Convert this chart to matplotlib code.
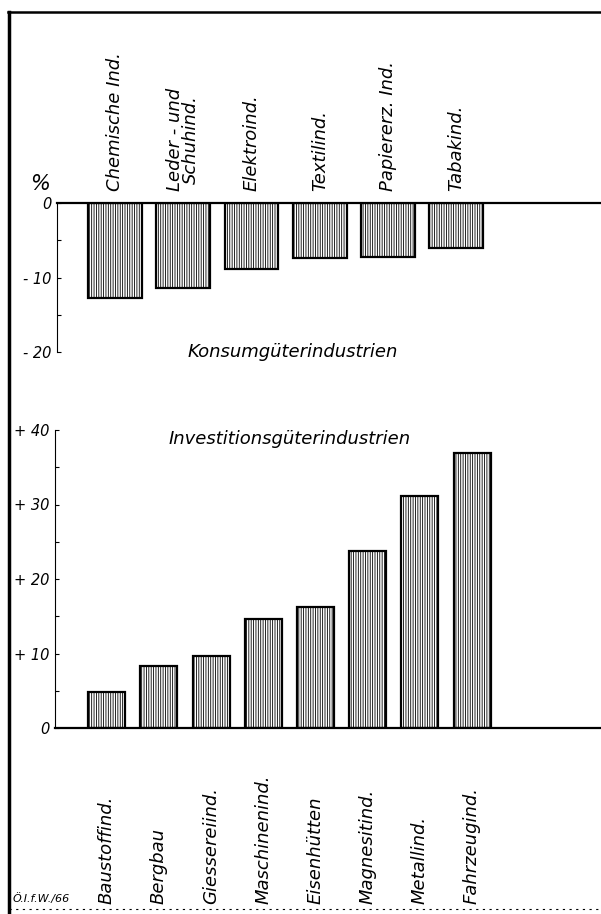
import numpy as np
import matplotlib.pyplot as plt
from matplotlib.lines import Line2D

plt.rcParams['hatch.linewidth'] = 0.6
plt.rcParams['font.family'] = 'DejaVu Sans'
plt.rcParams['font.style'] = 'italic'

konsum = ["Chemische Ind.", "Leder - und\nSchuhind.", "Elektroind.",
          "Textilind.", "Papiererz. Ind.", "Tabakind."]
konsum_vals = [-12.8, -11.4, -8.8, -7.4, -7.2, -6.1]

invest = ["Baustoffind.", "Bergbau", "Giessereiind.", "Maschinenind.",
          "Eisenhütten", "Magnesitind.", "Metallind.", "Fahrzeugind."]
invest_vals = [4.8, 8.3, 9.7, 14.6, 16.2, 23.8, 31.1, 36.9]

W, H = 601, 914
fig = plt.figure(figsize=(W / 100, H / 100), dpi=100)

def fx(px):
    return px / W

def fy(py):
    return 1 - py / H

# top panel: Konsumgüterindustrien
ax1 = fig.add_axes([fx(57), fy(352), 1 - fx(57), fy(203) - fy(352)])
x1 = np.arange(len(konsum))
ax1.bar(x1, konsum_vals, width=0.79, color='white', edgecolor='black',
        linewidth=1.6, hatch='|||||||')
ax1.set_xlim(-0.85, 7.12)
ax1.set_ylim(-20, 0)
for s in ['bottom', 'right']:
    ax1.spines[s].set_visible(False)
ax1.spines['top'].set_linewidth(1.6)
ax1.spines['left'].set_linewidth(0.8)
ax1.set_xticks([])
ax1.set_yticks([0, -10, -20])
ax1.set_yticklabels(['0', '- 10', '- 20'], fontsize=10.5)
ax1.set_yticks([-5, -15], minor=True)
ax1.tick_params(axis='y', which='both', direction='in', length=3, width=0.8, pad=4)
for i, lab in enumerate(konsum):
    ax1.text(x1[i], 1.6, lab, rotation=90, ha='center', va='bottom',
             fontsize=13, linespacing=0.85)
ax1.text(-1.1, 1.2, '%', fontsize=15, ha='center', va='bottom')
ax1.text(2.6, -20, 'Konsumgüterindustrien', fontsize=13, ha='center', va='center')

# bottom panel: Investitionsgüterindustrien
ax2 = fig.add_axes([fx(55), fy(728), 1 - fx(55), fy(430) - fy(728)])
x2 = np.arange(len(invest))
ax2.bar(x2, invest_vals, width=0.71, color='white', edgecolor='black',
        linewidth=1.6, hatch='|||||||')
ax2.set_xlim(-0.99, 9.47)
ax2.set_ylim(0, 40)
for s in ['top', 'right']:
    ax2.spines[s].set_visible(False)
ax2.spines['bottom'].set_linewidth(1.6)
ax2.spines['left'].set_linewidth(0.8)
ax2.set_xticks([])
ax2.set_yticks([0, 10, 20, 30, 40])
ax2.set_yticklabels(['0', '+ 10', '+ 20', '+ 30', '+ 40'], fontsize=10.5)
ax2.set_yticks([5, 15, 25, 35], minor=True)
ax2.tick_params(axis='y', which='both', direction='in', length=3, width=0.8, pad=4)
ax2.text(3.5, 38.8, 'Investitionsgüterindustrien', fontsize=13,
         ha='center', va='center')
for i, lab in enumerate(invest):
    fig.text(fx(106.5 + 52.2 * i), fy(904), lab, rotation=90, ha='center',
             va='bottom', fontsize=13)

# frame of the original sheet
fig.add_artist(Line2D([fx(9), fx(9)], [fy(12), 0], color='black', lw=2.5))
fig.add_artist(Line2D([fx(8), 1], [fy(12), fy(12)], color='black', lw=1.8))
fig.add_artist(Line2D([fx(9), 1], [fy(909), fy(909)], color='black', lw=0.8,
                      ls=(0, (2, 4))))
fig.text(fx(13), fy(904), 'Ö.I.f.W./66', fontsize=8, ha='left', va='bottom')

fig.savefig('out.png', dpi=100)
